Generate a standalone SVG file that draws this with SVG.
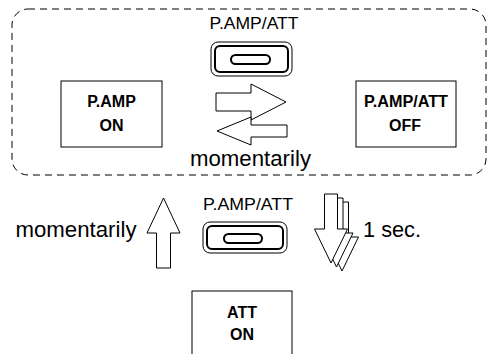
<svg xmlns="http://www.w3.org/2000/svg" width="489" height="354" viewBox="0 0 489 354">
<style>
text{font-family:"Liberation Sans",Arial,Helvetica,sans-serif;fill:#000}
.lbl{font-size:16px}
.big{font-size:22px}
.bold{font-size:16px;font-weight:bold}
.box{fill:#fff;stroke:#000;stroke-width:1}
.arr{fill:#fff;stroke:#000;stroke-width:1;stroke-linejoin:miter}
.btnO{fill:#fff;stroke:#000;stroke-width:1}
.btnI{fill:none;stroke:#000;stroke-width:2}
.pill{fill:none;stroke:#000;stroke-width:2}
</style>
<rect width="489" height="354" fill="#fff"/>
<g id="group-border">
<rect x="12" y="9" width="474" height="166" rx="16" ry="16" fill="none" stroke="#000" stroke-width="1" stroke-dasharray="7 5"/>
</g>
<g id="node-button-top">
<text class="lbl" x="254" y="29" text-anchor="middle" textLength="89" lengthAdjust="spacingAndGlyphs">P.AMP/ATT</text>
<rect class="btnO" x="211" y="42" width="81" height="34" rx="7"/>
<rect class="btnI" x="215" y="46" width="73" height="26" rx="5"/>
<rect class="pill" x="231" y="55" width="39" height="9" rx="4.5"/>
</g>
<g id="node-pamp-on">
<rect class="box" x="61" y="81" width="101" height="66"/>
<text class="bold" x="111.5" y="107" text-anchor="middle">P.AMP</text>
<text class="bold" x="111.5" y="131" text-anchor="middle">ON</text>
</g>
<g id="node-pamp-att-off">
<rect class="box" x="356" y="81" width="100" height="66"/>
<text class="bold" x="406" y="107" text-anchor="middle" textLength="84" lengthAdjust="spacingAndGlyphs">P.AMP/ATT</text>
<text class="bold" x="405" y="131" text-anchor="middle">OFF</text>
</g>
<g id="node-button-mid">
<text class="lbl" x="248" y="210" text-anchor="middle" textLength="90" lengthAdjust="spacingAndGlyphs">P.AMP/ATT</text>
<rect class="btnO" x="203" y="222" width="84" height="31" rx="7"/>
<rect class="btnI" x="207" y="226" width="76" height="23" rx="5"/>
<rect class="pill" x="224" y="234" width="38" height="9" rx="4.5"/>
</g>
<g id="node-att-on">
<rect class="box" x="192" y="291" width="100" height="70"/>
<text class="bold" x="242" y="318" text-anchor="middle">ATT</text>
<text class="bold" x="242" y="340" text-anchor="middle">ON</text>
</g>
<g id="connectors">
<polygon class="arr" points="216,93 251,93 251,84 286,102 251,120 251,111 216,111"/>
<polygon class="arr" points="217,131 251,117 251,125 287,125 287,137 251,137 251,145"/>
<polygon class="arr" points="163.5,198 180,233 170.5,233 170.5,268 156.5,268 156.5,233 147,233"/>
<polygon class="arr" points="335.5,202 348.5,202 348.5,237 358.5,237 342,271 325.5,237 335.5,237"/>
<polygon class="arr" points="330,198 343,198 343,233 353,233 336.5,267 320,233 330,233"/>
<polygon class="arr" points="324.5,194 337.5,194 337.5,229 347.5,229 331,263 314.5,229 324.5,229"/>
</g>
<g id="labels">
<text class="big" x="250.5" y="166" text-anchor="middle" textLength="121" lengthAdjust="spacingAndGlyphs">momentarily</text>
<text class="big" x="76" y="237" text-anchor="middle" textLength="121" lengthAdjust="spacingAndGlyphs">momentarily</text>
<text class="big" x="392" y="237" text-anchor="middle" textLength="58" lengthAdjust="spacingAndGlyphs">1 sec.</text>
</g>
</svg>
